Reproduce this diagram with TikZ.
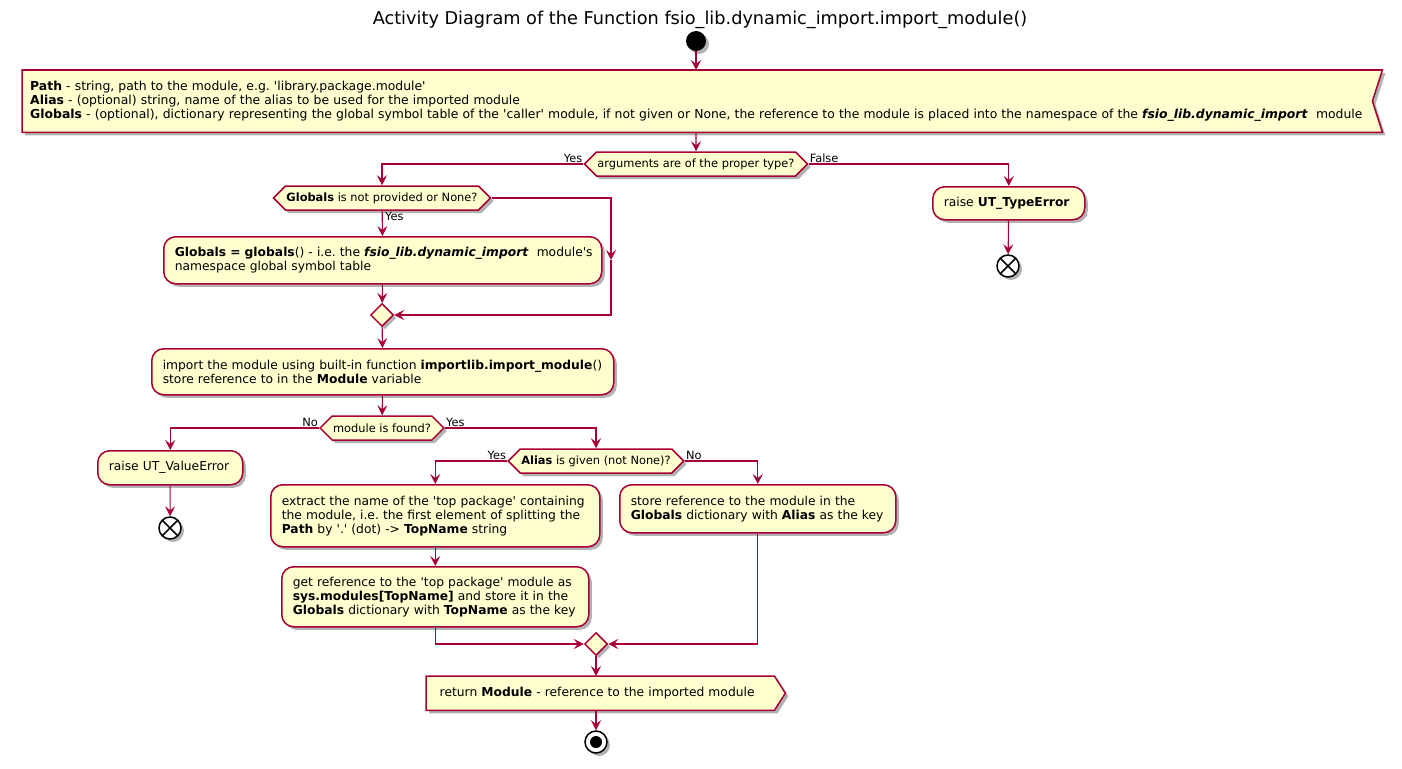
\documentclass[tikz,border=0pt]{standalone}
\usepackage{fontspec}
\setmainfont{DejaVu Sans}
\usetikzlibrary{arrows.meta,shapes.geometric,shapes.symbols,shadows,backgrounds}
\definecolor{PumlRed}{HTML}{A80036}
\definecolor{PumlFill}{HTML}{FEFECE}
\newcommand{\sq}{\textquotesingle}
\frenchspacing

\begin{document}
\begin{tikzpicture}[x=1pt,y=-1pt,
  dshadow/.style={drop shadow={shadow xshift=3pt,shadow yshift=-3pt,opacity=0.3,fill=black}},
  act/.style={rectangle,rounded corners=12pt,draw=PumlRed,fill=PumlFill,line width=1.5pt,dshadow,anchor=north west,align=left,inner xsep=11pt,inner ysep=0pt,font=\fontsize{12.3}{14}\selectfont},
  dec/.style={signal,signal to=east and west,signal pointer angle=90,draw=PumlRed,fill=PumlFill,line width=1.5pt,dshadow,inner xsep=1pt,inner ysep=2pt,minimum height=24pt,font=\fontsize{11.4}{13}\selectfont},
  merge/.style={diamond,draw=PumlRed,fill=PumlFill,line width=1.5pt,dshadow,inner sep=0pt,minimum width=23pt,minimum height=23pt},
  flow/.style={draw=PumlRed,line width=1.1pt,-{Stealth[length=10pt,width=10pt,inset=4pt]}},
  lbl/.style={font=\fontsize{11.4}{13}\selectfont,inner sep=1pt},
  startdot/.style={circle,fill=black,minimum size=20pt,inner sep=0pt,dshadow},
  stopdot/.style={circle,draw=black,fill=white,line width=1.5pt,minimum size=22pt,inner sep=0pt,dshadow,path picture={\fill[black] (path picture bounding box.center) circle (6pt);}},
  enddot/.style={circle,draw=black,fill=white,line width=1.5pt,minimum size=22pt,inner sep=0pt,dshadow,path picture={\draw[line width=1.5pt] ([shift={(-8pt,-8pt)}]path picture bounding box.center) -- ([shift={(8pt,8pt)}]path picture bounding box.center) ([shift={(-8pt,8pt)}]path picture bounding box.center) -- ([shift={(8pt,-8pt)}]path picture bounding box.center);}}]
\useasboundingbox (0,0) rectangle (1402,768);
\node[font=\fontsize{17.7}{21}\selectfont] (title) at (700,20) {Activity Diagram of the Function fsio\_lib.dynamic\_import.import\_module()};
\node[startdot] (start) at (696,41) {};
\node[rectangle,anchor=north west,minimum width=1360pt,minimum height=62pt,text width=1344pt,inner xsep=8pt,align=left,font=\fontsize{12.4}{14}\selectfont] (params) at (22,70) {\textbf{Path} - string, path to the module, e.g. \sq library.package.module\sq\\
\textbf{Alias} - (optional) string, name of the alias to be used for the imported module\\
\textbf{Globals} - (optional), dictionary representing the global symbol table of the \sq caller\sq\ module, if not given or None, the reference to the module is placed into the namespace of the \textbf{\textit{fsio\_lib.dynamic\_import}}\ \ module};
\node[dec] (argsq) at (696,164) {arguments are of the proper type?};
\node[act,text width=130pt,minimum height=33pt] (typeerr) at (932,186) {raise \textbf{UT\_TypeError}};
\node[enddot] (end1) at (1008,266) {};
\node[dec] (globq) at (382,198) {\textbf{Globals} is not provided or None?};
\node[act,text width=416pt,minimum height=47pt] (globset) at (163,236) {\mbox{\textbf{Globals = globals}() - i.e. the \textbf{\textit{fsio\_lib.dynamic\_import}}\ \ module\sq s}\\namespace global symbol table};
\node[merge] (merge1) at (382,315) {};
\coordinate (bypass) at (611,260);
\node[act,text width=440pt,minimum height=46pt] (importmod) at (151,348) {import the module using built-in function \textbf{importlib.import\_module}()\\store reference to in the \textbf{Module} variable};
\node[dec] (foundq) at (382,428) {module is found?};
\node[act,text width=123pt,minimum height=34pt] (valerr) at (97,450) {raise UT\_ValueError};
\node[enddot] (end2) at (170,528) {};
\node[dec] (aliasq) at (596,461) {\textbf{Alias} is given (not None)?};
\node[act,text width=307pt,minimum height=62pt] (topname) at (270,484) {extract the name of the \sq top package\sq\ containing\\the module, i.e. the first element of splitting the\\\textbf{Path} by \sq.\sq\ (dot) -> \textbf{TopName} string};
\node[act,text width=285pt,minimum height=60pt] (getref) at (281,566) {get reference to the \sq top package\sq\ module as\\\textbf{sys.modules[TopName]} and store it in the\\\textbf{Globals} dictionary with \textbf{TopName} as the key};
\node[act,text width=254pt,minimum height=48pt] (storeref) at (619,484) {store reference to the module in the\\\textbf{Globals} dictionary with \textbf{Alias} as the key};
\node[merge] (merge2) at (596,644) {};
\node[rectangle,anchor=north west,minimum width=339pt,minimum height=34pt,text width=330pt,inner xsep=0pt,align=left,font=\fontsize{12.3}{14}\selectfont] (ret) at (435,676) {return \textbf{Module} - reference to the imported module};
\node[stopdot] (stop) at (596,742) {};
\begin{scope}[on background layer]
\draw[draw=PumlRed,fill=PumlFill,line width=1.5pt,dshadow] (params.north west) -- (params.north east) -- ([xshift=-10pt]params.east) -- (params.south east) -- (params.south west) -- cycle;
\draw[draw=PumlRed,fill=PumlFill,line width=1.5pt,dshadow] ([xshift=-9pt]ret.north west) -- (ret.north east) -- ([xshift=11pt]ret.east) -- (ret.south east) -- ([xshift=-9pt]ret.south west) -- cycle;
\end{scope}
\node[lbl,anchor=south east] (yes1) at (argsq.west) {Yes};
\node[lbl,anchor=south west] (false1) at (argsq.east) {False};
\node[lbl,anchor=north west] (yes2) at ([xshift=2pt]globq.south) {Yes};
\node[lbl,anchor=south east] (no3) at (foundq.west) {No};
\node[lbl,anchor=south west] (yes3) at (foundq.east) {Yes};
\node[lbl,anchor=south east] (yes4) at (aliasq.west) {Yes};
\node[lbl,anchor=south west] (no4) at (aliasq.east) {No};
\draw[flow] (start) -- (start |- params.north);
\draw[flow] (argsq |- params.south) -- (argsq);
\draw[flow] (argsq.west) -| (globq.north);
\draw[flow] (argsq.east) -| (typeerr.north);
\draw[flow] (typeerr) -- (end1);
\draw[flow] (globq) -- (globset);
\draw[flow] (globq.east) -| (bypass);
\draw[flow] (bypass) |- (merge1.east);
\draw[flow] (globset) -- (merge1);
\draw[flow] (merge1) -- (importmod);
\draw[flow] (importmod) -- (foundq);
\draw[flow] (foundq.west) -| (valerr.north);
\draw[flow] (valerr) -- (end2);
\draw[flow] (foundq.east) -| (aliasq.north);
\draw[flow] (aliasq.west) -| (topname.north);
\draw[flow] (aliasq.east) -| (storeref.north);
\draw[flow] (topname) -- (getref);
\draw[flow] (getref.south) |- (merge2.west);
\draw[flow] (storeref.south) |- (merge2.east);
\draw[flow] (merge2) -- (merge2 |- ret.north);
\draw[flow] (merge2 |- ret.south) -- (stop);
\end{tikzpicture}
\end{document}
